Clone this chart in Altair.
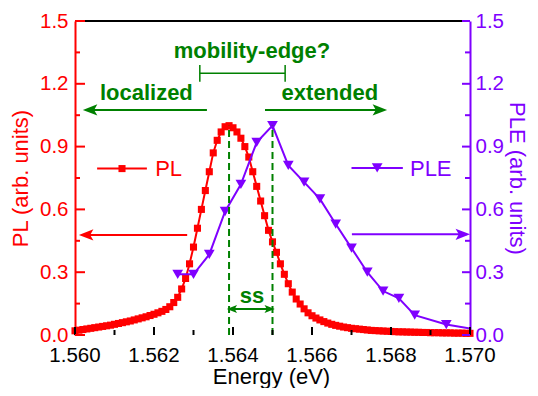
import altair as alt
import pandas as pd

# ---------------- data ----------------
pl_values = [
    0.020, 0.023, 0.026, 0.029, 0.032, 0.035, 0.038, 0.041, 0.044, 0.047,
    0.051, 0.055, 0.059, 0.063, 0.067, 0.072, 0.077, 0.082, 0.087, 0.093,
    0.099, 0.106, 0.113, 0.122, 0.135, 0.155, 0.180, 0.220, 0.270, 0.340,
    0.420, 0.510, 0.600, 0.690, 0.780, 0.870, 0.930, 0.970, 0.995, 1.000,
    0.990, 0.970, 0.940, 0.900, 0.850, 0.780, 0.710, 0.640, 0.570, 0.500,
    0.445, 0.395, 0.340, 0.290, 0.245, 0.205, 0.172, 0.148, 0.125, 0.106,
    0.092, 0.081, 0.072, 0.064, 0.057, 0.051, 0.046, 0.042, 0.038, 0.035,
    0.032, 0.030, 0.028, 0.026, 0.024, 0.022, 0.021, 0.020, 0.019, 0.018,
    0.017, 0.016, 0.015, 0.015, 0.014, 0.014, 0.013, 0.013, 0.012, 0.012,
    0.011, 0.011, 0.011, 0.010, 0.010, 0.010, 0.009, 0.009, 0.009, 0.008,
    0.008,
]
pl_start = 1.5600
pl_step = 0.0001
pl_energy = [round(pl_start + pl_step * i, 4) for i in range(len(pl_values))]

ple_energy = [1.5626, 1.5630, 1.5634, 1.5638, 1.5642, 1.5646, 1.5650, 1.5654,
              1.5658, 1.5662, 1.5666, 1.5670, 1.5674, 1.5678, 1.5682, 1.5686,
              1.5694, 1.5702]
ple_values = [0.29, 0.29, 0.385, 0.59, 0.72, 0.92, 1.00, 0.81,
              0.73, 0.65, 0.53, 0.415, 0.30, 0.21, 0.175, 0.095,
              0.05, 0.025]

x_ticks_major = [1.560, 1.562, 1.564, 1.566, 1.568, 1.570]
x_tick_labels = ["1.560", "1.562", "1.564", "1.566", "1.568", "1.570"]
x_ticks_minor = [1.561, 1.563, 1.565, 1.567, 1.569]
y_ticks_major = [0.0, 0.3, 0.6, 0.9, 1.2, 1.5]
y_ticks_minor = [0.15, 0.45, 0.75, 1.05, 1.35]
x_title = "Energy (eV)"

peak_positions = [1.5639, 1.5650]          # PL peak, PLE peak
ss_level = 0.124

# arrows: start, end (tip), level, direction, colour
arrow_start = [1.56334, 1.56481, 1.56284, 1.56701]
arrow_end = [1.56028, 1.56782, 1.56018, 1.56992]
arrow_level = [1.075, 1.075, 0.478, 0.481]
arrow_dir = ["left", "right", "left", "right"]
arrow_color = ["green", "green", "red", "purple"]

bracket_from, bracket_to, bracket_level = 1.56316, 1.56532, 1.25
bracket_cap_low, bracket_cap_high = 1.21, 1.29

labels_text = ["mobility-edge?", "localized", "extended", "ss"]
labels_x = [1.56448, 1.56063, 1.56523, 1.56448]
labels_y = [1.323, 1.123, 1.123, 0.153]
labels_align = ["center", "left", "left", "center"]

legend_names = ["PL", "PLE"]
legend_x1 = [1.56056, 1.56700]
legend_x2 = [1.56182, 1.56830]
legend_marker_x = [1.56119, 1.56765]
legend_y = [0.795, 0.798]
legend_text_x = [1.56203, 1.56848]
legend_text_y = [0.76, 0.76]

# ---------------- styling ----------------
RED = "#FF0000"
PURPLE = "#7F00FF"
GREEN = "#008000"
FONT = "Liberation Sans"
W, H = 395, 314
LABEL_SIZE = 20.5
TITLE_SIZE = 22

XS = alt.Scale(domain=[1.560, 1.570], nice=False, zero=False)
YS = alt.Scale(domain=[0, 1.5], nice=False, zero=False)


def X(field, axis=None):
    return alt.X(field, type="quantitative", scale=XS, axis=axis)


def Y(field, axis=None):
    return alt.Y(field, type="quantitative", scale=YS, axis=axis)


RIGHT_HEAD = "M0.4,0 L-1.4,-0.7 L-1,0 L-1.4,0.7 Z"
LEFT_HEAD = "M-0.4,0 L1.4,-0.7 L1,0 L1.4,0.7 Z"

x_axis = alt.Axis(values=x_ticks_major, title=None, labels=False,
                  orient="bottom", ticks=False, grid=False, domainColor="black",
                  domainWidth=2)
left_axis = alt.Axis(values=y_ticks_major, format=".1f", title="PL (arb. units)",
                     orient="left", ticks=False, grid=False, domainColor=RED,
                     domainWidth=2, labelColor=RED, labelFont=FONT,
                     labelFontSize=LABEL_SIZE, titleFont=FONT,
                     titleFontSize=TITLE_SIZE, titleFontWeight="normal",
                     titleColor=RED, labelPadding=7, titlePadding=7,
                     labelFlush=False)
right_axis = alt.Axis(values=y_ticks_major, format=".1f", title="PLE (arb. units)",
                      orient="right", ticks=False, grid=False,
                      domainColor=PURPLE, domainWidth=2, labelColor=PURPLE,
                      labelFont=FONT, labelFontSize=LABEL_SIZE, titleFont=FONT,
                      titleFontSize=TITLE_SIZE, titleFontWeight="normal",
                      titleColor=PURPLE, labelPadding=5, titlePadding=1,
                      labelFlush=False)

pl_df = pd.DataFrame({"e": pl_energy, "v": pl_values})
ple_df = pd.DataFrame({"e": ple_energy, "v": ple_values})

pl_line = alt.Chart(pl_df).mark_line(color=RED, strokeWidth=2).encode(
    x=X("e", x_axis), y=Y("v", left_axis))
pl_pts = alt.Chart(pl_df).mark_point(shape="square", filled=True, opacity=1,
                                     color=RED, size=50).encode(x=X("e"), y=Y("v"))

ple_line = alt.Chart(ple_df).mark_line(color=PURPLE, strokeWidth=2, clip=True).encode(
    x=X("e"), y=Y("v", right_axis))
ple_pts = alt.Chart(ple_df).mark_point(shape="triangle-down", filled=True, opacity=1,
                                       color=PURPLE, size=115, clip=True).encode(
    x=X("e"), y=Y("v"))

one = pd.DataFrame({"a": [0]})

top_line = alt.Chart(one).mark_rule(color="black", strokeWidth=2).encode(
    x=alt.value(0), x2=alt.value(W), y=alt.value(0))

# x tick labels and title (drawn as text)
xlab = alt.Chart(pd.DataFrame({"e": x_ticks_major, "t": x_tick_labels})).mark_text(
    font=FONT, fontSize=LABEL_SIZE, color="black", align="center",
    baseline="alphabetic").encode(x=X("e"), y=alt.value(H + 27), text="t:N")
xtitle = alt.Chart(pd.DataFrame({"t": [x_title]})).mark_text(
    font=FONT, fontSize=TITLE_SIZE, color="black", align="center",
    baseline="alphabetic").encode(x=alt.value(W / 2 - 1), y=alt.value(H + 49),
                                  text="t:N")

# inward ticks
bx_major = alt.Chart(pd.DataFrame({"e": x_ticks_major})).mark_rule(
    color="black", strokeWidth=2).encode(x=X("e"), y=alt.value(H), y2=alt.value(H - 8))
bx_minor = alt.Chart(pd.DataFrame({"e": x_ticks_minor})).mark_rule(
    color="black", strokeWidth=2).encode(x=X("e"), y=alt.value(H), y2=alt.value(H - 5))
ly_major = alt.Chart(pd.DataFrame({"v": y_ticks_major})).mark_rule(
    color=RED, strokeWidth=2).encode(y=Y("v"), x=alt.value(0), x2=alt.value(10))
ly_minor = alt.Chart(pd.DataFrame({"v": y_ticks_minor})).mark_rule(
    color=RED, strokeWidth=2).encode(y=Y("v"), x=alt.value(0), x2=alt.value(5))
ry_major = alt.Chart(pd.DataFrame({"v": y_ticks_major})).mark_rule(
    color=PURPLE, strokeWidth=2).encode(y=Y("v"), x=alt.value(W), x2=alt.value(W - 8))
ry_minor = alt.Chart(pd.DataFrame({"v": y_ticks_minor})).mark_rule(
    color=PURPLE, strokeWidth=2).encode(y=Y("v"), x=alt.value(W), x2=alt.value(W - 5))

# dashed peak lines
peak_df = pd.DataFrame({"e": peak_positions, "lo": [0, 0], "hi": [1.0, 1.0]})
peaks = alt.Chart(peak_df).mark_rule(color=GREEN, strokeWidth=2,
                                     strokeDash=[7, 4]).encode(
    x=X("e"), y=Y("lo"), y2="hi")

# ss double arrow
ss_df = pd.DataFrame({"a": [peak_positions[0]], "b": [peak_positions[1]],
                      "v": [ss_level]})
ss_line = alt.Chart(ss_df).mark_rule(color=GREEN, strokeWidth=2).encode(
    x=X("a"), x2="b", y=Y("v"))
ss_heads_df = pd.DataFrame({"e": peak_positions, "v": [ss_level, ss_level],
                            "d": ["left", "right"]})
ss_heads = alt.Chart(ss_heads_df).mark_point(filled=True, opacity=1, color=GREEN,
                                             size=130).encode(
    x=X("e"), y=Y("v"),
    shape=alt.Shape("d:N", scale=alt.Scale(domain=["left", "right"],
                                           range=[LEFT_HEAD, RIGHT_HEAD]),
                    legend=None))

# arrows
arr_df = pd.DataFrame({"s": arrow_start, "t": arrow_end, "v": arrow_level,
                       "d": arrow_dir, "c": arrow_color})
arr_color = alt.Color("c:N", scale=alt.Scale(domain=["green", "red", "purple"],
                                             range=[GREEN, RED, PURPLE]),
                      legend=None)
arr_lines = alt.Chart(arr_df).mark_rule(strokeWidth=2).encode(
    x=X("s"), x2="t", y=Y("v"), color=arr_color)
arr_heads = alt.Chart(arr_df).mark_point(filled=True, opacity=1, size=260).encode(
    x=X("t"), y=Y("v"), color=arr_color,
    shape=alt.Shape("d:N", scale=alt.Scale(domain=["left", "right"],
                                           range=[LEFT_HEAD, RIGHT_HEAD]),
                    legend=None))

# bracket
br_df = pd.DataFrame({"a": [bracket_from], "b": [bracket_to], "v": [bracket_level]})
br_line = alt.Chart(br_df).mark_rule(color=GREEN, strokeWidth=1.5).encode(
    x=X("a"), x2="b", y=Y("v"))
cap_df = pd.DataFrame({"e": [bracket_from, bracket_to],
                       "lo": [bracket_cap_low] * 2, "hi": [bracket_cap_high] * 2})
br_caps = alt.Chart(cap_df).mark_rule(color=GREEN, strokeWidth=1.5).encode(
    x=X("e"), y=Y("lo"), y2="hi")

# green labels
lab_layers = []
for t, lx, ly, al in zip(labels_text, labels_x, labels_y, labels_align):
    lab_layers.append(
        alt.Chart(pd.DataFrame({"e": [lx], "v": [ly], "t": [t]})).mark_text(
            color=GREEN, font=FONT, fontSize=22, fontWeight="bold",
            align=al, baseline="alphabetic").encode(x=X("e"), y=Y("v"), text="t:N"))

# legend
leg_cols = [RED, PURPLE]
leg_shapes = ["square", "triangle-down"]
leg_sizes = [50, 115]
leg_layers = []
for i in range(2):
    d = pd.DataFrame({"a": [legend_x1[i]], "b": [legend_x2[i]], "v": [legend_y[i]],
                      "m": [legend_marker_x[i]], "tx": [legend_text_x[i]],
                      "ty": [legend_text_y[i]], "t": [legend_names[i]]})
    leg_layers.append(alt.Chart(d).mark_rule(color=leg_cols[i], strokeWidth=2).encode(
        x=X("a"), x2="b", y=Y("v")))
    leg_layers.append(alt.Chart(d).mark_point(shape=leg_shapes[i], filled=True,
                                              opacity=1, color=leg_cols[i],
                                              size=leg_sizes[i]).encode(
        x=X("m"), y=Y("v")))
    leg_layers.append(alt.Chart(d).mark_text(color=leg_cols[i], font=FONT, fontSize=22,
                                             align="left", baseline="alphabetic").encode(
        x=X("tx"), y=Y("ty"), text="t:N"))

chart = alt.layer(
    pl_line, pl_pts, ple_line, ple_pts, peaks, ss_line, ss_heads,
    arr_lines, arr_heads, br_line, br_caps, *lab_layers, *leg_layers,
    top_line, bx_major, bx_minor, ly_major, ly_minor, ry_major, ry_minor,
    xlab, xtitle,
).resolve_scale(y="independent", x="shared").properties(
    width=W, height=H,
    autosize=alt.AutoSizeParams(type="none"),
    padding={"left": 67, "top": 13, "right": 60, "bottom": 53},
).configure_view(stroke=None)

chart.save("out.html", embed_options={"renderer": "svg", "actions": False})
